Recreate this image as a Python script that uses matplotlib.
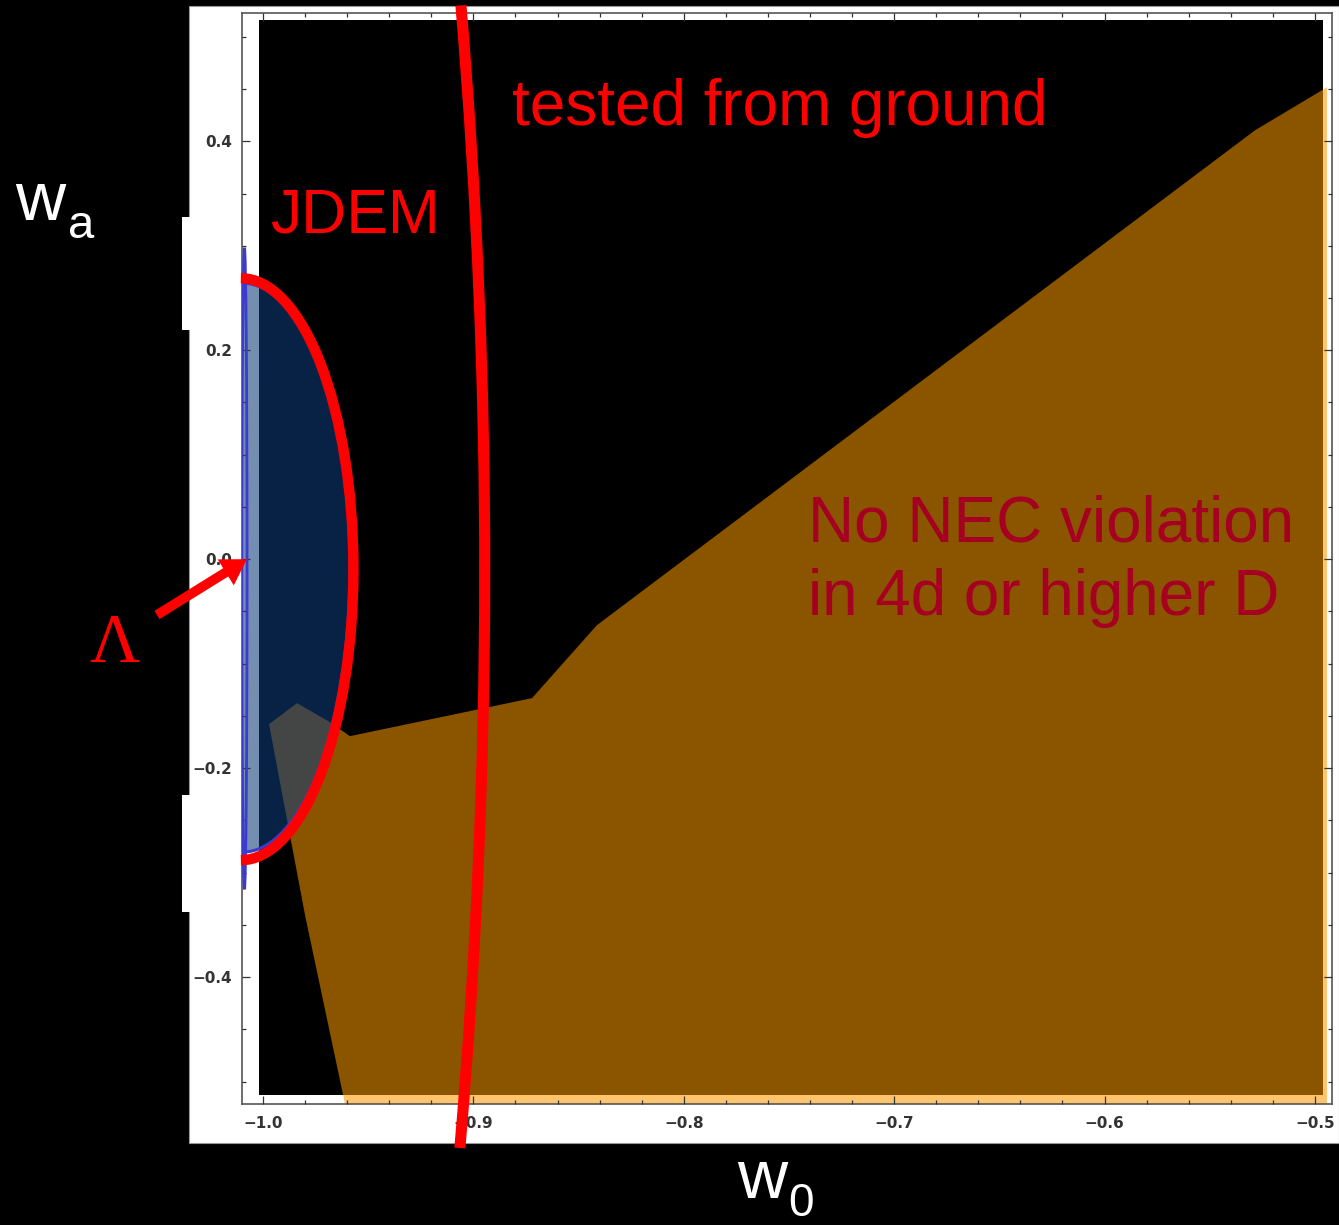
import matplotlib
matplotlib.use("Agg")
import matplotlib.pyplot as plt
from matplotlib.patches import Rectangle, Polygon, Ellipse, Arc, PathPatch
from matplotlib.path import Path
from matplotlib.ticker import MultipleLocator

# axis ticks
w0_ticks = [-1.0, -0.9, -0.8, -0.7, -0.6, -0.5]
w0_labels = ["\u22121.0", "\u22120.9", "\u22120.8", "\u22120.7", "\u22120.6", "\u22120.5"]
wa_ticks = [-0.4, -0.2, 0.0, 0.2, 0.4]
wa_labels = ["\u22120.4", "\u22120.2", "0.0", "0.2", "0.4"]

# "No NEC violation" region outline (w0, wa)
nec_w0 = [-0.4943, -0.5285, -0.8413, -0.8721, -0.9587, -0.9682, -0.9838, -0.9971, -0.980, -0.961, -0.4943]
nec_wa = [0.4517, 0.4105, -0.0632, -0.1330, -0.1694, -0.156, -0.1378, -0.1579, -0.3407, -0.5215, -0.5215]

# JDEM forecast ellipse (centre, full width, full height)
jdem_center = (-1.0095, -0.0081)
jdem_size = (0.1018, 0.5444)
jdem_bound_center = (-1.0105, -0.0096)
jdem_bound_size = (0.107, 0.557)

# ground-based bound: start, control, end of the curve
ground_w0 = [-0.9059, -0.8830, -0.9064]
ground_wa = [0.530, -0.017, -0.5636]

# Lambda point
lambda_pt = (-1.0076, 0.0)

W, H = 1339, 1225
fig = plt.figure(figsize=(W / 100, H / 100), dpi=100, facecolor="black")


def fx(px):
    return px / W


def fy(py):
    return 1 - py / H


# white panel of the pasted plot
fig.patches.append(Rectangle((fx(189), fy(1143)), fx(1339) - fx(189), fy(6) - fy(1143),
                             transform=fig.transFigure, facecolor="white",
                             edgecolor="#999999", lw=0.8, zorder=-1))
for y0, y1 in [(217, 330), (795, 912)]:
    fig.patches.append(Rectangle((fx(182), fy(y1)), fx(191) - fx(182), fy(y0) - fy(y1),
                                 transform=fig.transFigure, facecolor="white",
                                 edgecolor="none", zorder=-1))

ax = fig.add_axes([fx(241.7), fy(1104), fx(1332) - fx(241.7), fy(13.3) - fy(1104)])
ax.set_facecolor("white")
ax.set_axisbelow(False)
ax.set_xlim(-1.0101, -0.4919)
ax.set_ylim(-0.5215, 0.5225)

# light region, black overlay, dark region clipped to overlay
nec_xy = list(zip(nec_w0, nec_wa))
ax.add_patch(Polygon(nec_xy, closed=True, facecolor="#ffc46c", edgecolor="none", zorder=1))
overlay = Rectangle((-1.0019, -0.5129), -0.4962 + 1.0019, 0.5158 + 0.5129,
                    facecolor="black", edgecolor="none", zorder=1.1)
ax.add_patch(overlay)
dark = Polygon(nec_xy, closed=True, facecolor="#8b5500", edgecolor="none", zorder=1.2)
ax.add_patch(dark)
dark.set_clip_path(overlay)

# JDEM ellipse
ax.add_patch(Ellipse(jdem_center, jdem_size[0], jdem_size[1], facecolor="#0f3c78",
                     alpha=0.58, edgecolor="none", zorder=1.3))
ax.add_patch(Ellipse(jdem_center, jdem_size[0], jdem_size[1], facecolor="none",
                     edgecolor="#3b3bd0", lw=2.2, zorder=1.4))
ax.add_patch(Ellipse((-1.0088, -0.009), 0.0025, 0.614, facecolor="none",
                     edgecolor="#3b3bd0", lw=2.0, zorder=2.6))
ax.add_patch(Arc(jdem_bound_center, jdem_bound_size[0], jdem_bound_size[1],
                 theta1=-90, theta2=90, color="#ff0000", lw=7.5, zorder=3,
                 clip_on=False, capstyle="butt"))

# ground bound curve
ground_path = Path(list(zip(ground_w0, ground_wa)), [Path.MOVETO, Path.CURVE3, Path.CURVE3])
ax.add_patch(PathPatch(ground_path, facecolor="none", edgecolor="#ff0000", lw=8,
                       zorder=3, clip_on=False, capstyle="butt"))

# ticks
ax.set_xticks(w0_ticks)
ax.set_xticklabels(w0_labels)
ax.set_yticks(wa_ticks)
ax.set_yticklabels(wa_labels)
ax.xaxis.set_minor_locator(MultipleLocator(0.02))
ax.yaxis.set_minor_locator(MultipleLocator(0.05))
ax.tick_params(which="both", direction="in", top=True, right=True,
               color="#333333", width=0.9, labelsize=11, labelcolor="#333333")
ax.tick_params(which="major", length=6)
ax.tick_params(which="minor", length=3)
ax.tick_params(axis="x", pad=9)
ax.tick_params(axis="y", pad=7)
for lab in ax.get_xticklabels() + ax.get_yticklabels():
    lab.set_fontweight("bold")
for s in ax.spines.values():
    s.set_color("#555555")
    s.set_linewidth(1.2)

# arrow to Lambda
ax.annotate("", xy=lambda_pt, xycoords="data",
            xytext=(fx(157), fy(615)), textcoords="figure fraction",
            arrowprops=dict(arrowstyle="simple,head_width=2.2,head_length=1.8,tail_width=0.7",
                            facecolor="#ff0000", edgecolor="none", mutation_scale=10,
                            shrinkA=0, shrinkB=0),
            annotation_clip=False, zorder=4)

sans = "Liberation Sans"
fig.text(fx(512), fy(125), "tested from ground", color="#ff0000", fontsize=46,
         family=sans, va="baseline", ha="left")
fig.text(fx(270), fy(232), "JDEM", color="#ff0000", fontsize=45,
         family=sans, va="baseline", ha="left")
fig.text(fx(808), fy(542), "No NEC violation", color="#a50021", fontsize=46,
         family=sans, va="baseline", ha="left")
fig.text(fx(808), fy(615), "in 4d or higher D", color="#a50021", fontsize=46,
         family=sans, va="baseline", ha="left")
fig.text(fx(115), fy(662), "\u039b", color="#ff0000", fontsize=50,
         family="Liberation Serif", va="baseline", ha="center")
fig.text(fx(15), fy(220), "w", color="white", fontsize=50, family=sans, va="baseline")
fig.text(fx(68), fy(238), "a", color="white", fontsize=34, family=sans, va="baseline")
fig.text(fx(737), fy(1198), "w", color="white", fontsize=50, family=sans, va="baseline")
fig.text(fx(788), fy(1216), "0", color="white", fontsize=33, family=sans, va="baseline")

fig.savefig("out.png", dpi=100, facecolor="black")
